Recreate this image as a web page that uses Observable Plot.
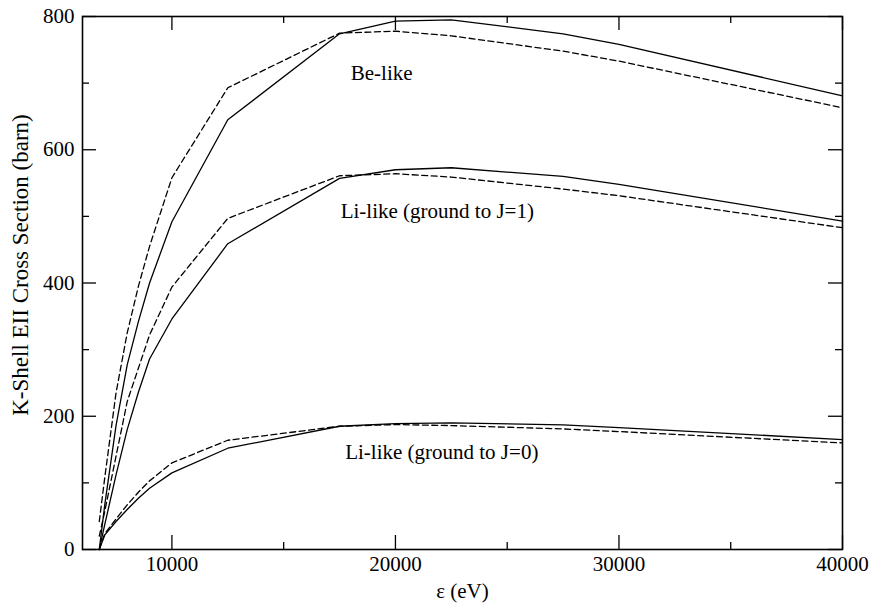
<!DOCTYPE html>
<html><head><meta charset="utf-8">
<script src="https://cdn.jsdelivr.net/npm/d3@7"></script>
<script src="https://cdn.jsdelivr.net/npm/@observablehq/plot@0.6"></script>
<style>body{margin:0;background:#fff;}</style>
</head><body><div id="chart"></div>
<script>
// Impact energy (eV)
const energy = [6750, 7000, 7500, 8000, 8500, 9000, 10000, 12500, 17500, 20000, 22500, 27500, 30000, 40000];
// K-shell EII cross sections (barn)
const beSolid  = [0, 68, 186, 277, 342, 400, 492, 645, 774, 793, 795, 774, 758, 681];
const beDashed = [42, 109, 235, 325, 395, 455, 558, 693, 775, 778, 771, 748, 733, 663];
const li1Solid  = [0, 38, 112, 180, 236, 286, 346, 459, 557, 570, 573, 560, 548, 493];
const li1Dashed = [20, 58, 140, 222, 272, 322, 394, 497, 561, 564, 559, 541, 531, 483];
const li0Solid  = [0, 22, 42, 60, 77, 92, 115, 152, 185, 189, 190, 187, 183, 165];
const li0Dashed = [0, 24, 46, 67, 86, 103, 130, 164, 185, 187.5, 186, 181, 177, 160];

const xTicks = [10000, 20000, 30000, 40000];
const xMinor = [15000, 25000, 35000];
const yTicks = [0, 200, 400, 600, 800];
const yMinor = [100, 300, 500, 700];

const labels = ["Be-like", "Li-like (ground to J=1)", "Li-like (ground to J=0)"];
const labelE = [18000, 17550, 17750];
const labelV = [705, 497, 136];

const xTitle = "ε (eV)";
const yTitle = "K-Shell EII Cross Section (barn)";

const seriesList = [
  {name: "Be solid", vals: beSolid, dashed: false},
  {name: "Be dashed", vals: beDashed, dashed: true},
  {name: "Li1 solid", vals: li1Solid, dashed: false},
  {name: "Li1 dashed", vals: li1Dashed, dashed: true},
  {name: "Li0 solid", vals: li0Solid, dashed: false},
  {name: "Li0 dashed", vals: li0Dashed, dashed: true}
];
const rowsFor = s => energy.map((e, i) => ({e, v: s.vals[i], name: s.name}));

const W = 870, H = 605, mL = 82, mR = 28, mT = 16, mB = 56;
const iW = W - mL - mR, iH = H - mT - mB;
const major = 14, minor = 7;
const font = "'Liberation Serif', 'Times New Roman', serif";

const lineMarks = seriesList.map(s => Plot.line(rowsFor(s), {
  x: "e", y: "v", stroke: "black", strokeWidth: 1.3,
  strokeDasharray: s.dashed ? "6,3.5" : null
}));

const chart = Plot.plot({
  width: W, height: H,
  marginLeft: mL, marginRight: mR, marginTop: mT, marginBottom: mB,
  style: {fontFamily: font, fontSize: "20px", background: "white", color: "black"},
  x: {domain: [6000, 40000]},
  y: {domain: [0, 800]},
  marks: [
    ...lineMarks,
    Plot.tickX(xTicks, {x: d => d, insetTop: iH - major, stroke: "black", strokeWidth: 1.3}),
    Plot.tickX(xMinor, {x: d => d, insetTop: iH - minor, stroke: "black", strokeWidth: 1.3}),
    Plot.tickX(xTicks, {x: d => d, insetBottom: iH - major, stroke: "black", strokeWidth: 1.3}),
    Plot.tickX(xMinor, {x: d => d, insetBottom: iH - minor, stroke: "black", strokeWidth: 1.3}),
    Plot.tickY(yTicks, {y: d => d, insetRight: iW - major, stroke: "black", strokeWidth: 1.3}),
    Plot.tickY(yMinor, {y: d => d, insetRight: iW - minor, stroke: "black", strokeWidth: 1.3}),
    Plot.tickY(yTicks, {y: d => d, insetLeft: iW - major, stroke: "black", strokeWidth: 1.3}),
    Plot.tickY(yMinor, {y: d => d, insetLeft: iW - minor, stroke: "black", strokeWidth: 1.3}),
    Plot.frame({stroke: "black", strokeWidth: 1.6}),
    Plot.axisX({ticks: xTicks, tickSize: 0, tickPadding: 7, tickFormat: d => String(d), label: null, fontSize: 21}),
    Plot.axisY({ticks: yTicks, tickSize: 0, tickPadding: 8, tickFormat: d => String(d), label: null, fontSize: 21}),
    Plot.text(labels, {
      x: (d, i) => labelE[i], y: (d, i) => labelV[i], text: d => d,
      textAnchor: "start", lineAnchor: "bottom", fontSize: 21, fill: "black"
    }),
    Plot.text([xTitle], {frameAnchor: "bottom", text: d => d, dy: 48, lineAnchor: "bottom", fontSize: 21, fill: "black"}),
    Plot.text([yTitle], {frameAnchor: "left", text: d => d, dx: -62, dy: -18, rotate: -90, lineAnchor: "middle", textAnchor: "middle", fontSize: 23, fill: "black"})
  ]
});
document.getElementById("chart").appendChild(chart);
</script>
</body></html>
